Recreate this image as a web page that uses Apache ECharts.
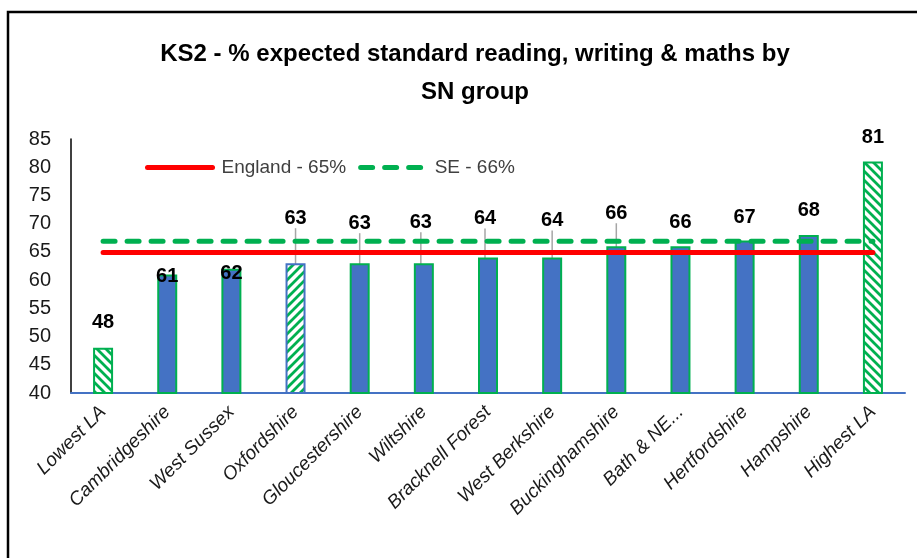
<!DOCTYPE html>
<html>
<head>
<meta charset="utf-8">
<script src="https://cdn.jsdelivr.net/npm/echarts@6/dist/echarts.min.js"></script>
<style>html,body{margin:0;padding:0;background:#fff}#c{width:917px;height:558px}</style>
</head>
<body>
<div id="c"></div>
<script>
const categories = ['Lowest LA','Cambridgeshire','West Sussex','Oxfordshire','Gloucestershire','Wiltshire','Bracknell Forest','West Berkshire','Buckinghamshire','Bath & NE...','Hertfordshire','Hampshire','Highest LA'];
const values = [48, 61, 62, 63, 63, 63, 64, 64, 66, 66, 67, 68, 81];
const englandValues = [64.9, 64.9, 64.9, 64.9, 64.9, 64.9, 64.9, 64.9, 64.9, 64.9, 64.9, 64.9, 64.9];
const seValues = [66.9, 66.9, 66.9, 66.9, 66.9, 66.9, 66.9, 66.9, 66.9, 66.9, 66.9, 66.9, 66.9];
const seriesNames = ['England - 65%', 'SE - 66%'];
const yMin = 40, yMax = 85, yStep = 5;

// styling (not data)
const barKind = ['back','solid','solid','fwd','solid','solid','solid','solid','solid','solid','solid','solid','back'];
const labelDy = [-10, 17, 20, -30, -25, -26, -24, -22, -18, -9, -8, -9, -9];
const labelDx = [0, 0, 0, 0, 0, -3, -3, 0, 0, 0, 0, 0, 0];
const leader = [0,0,0,1,1,1,1,1,1,0,0,0,0];

const BLUE = '#4472C4', GREEN = '#00B050';

function hatch(dir) {
  const s = 9;
  const c = document.createElement('canvas');
  c.width = s; c.height = s;
  const g = c.getContext('2d');
  g.fillStyle = '#fff'; g.fillRect(0, 0, s, s);
  g.strokeStyle = GREEN; g.lineWidth = 2.8;
  g.beginPath();
  if (dir === 'back') {
    g.moveTo(-2, -2); g.lineTo(s + 2, s + 2);
    g.moveTo(-2, s - 2); g.lineTo(2, s + 2);
    g.moveTo(s - 2, -2); g.lineTo(s + 2, 2);
  } else {
    g.moveTo(-2, s + 2); g.lineTo(s + 2, -2);
    g.moveTo(-2, 2); g.lineTo(2, -2);
    g.moveTo(s - 2, s + 2); g.lineTo(s + 2, s - 2);
  }
  g.stroke();
  return c;
}
const patBack = { image: hatch('back'), repeat: 'repeat' };
const patFwd = { image: hatch('fwd'), repeat: 'repeat' };

const barData = values.map((v, i) => {
  const k = barKind[i];
  const item = { value: v };
  if (k === 'back') item.itemStyle = { color: patBack, borderColor: GREEN, borderWidth: 2 };
  else if (k === 'fwd') item.itemStyle = { color: patFwd, borderColor: BLUE, borderWidth: 2 };
  else item.itemStyle = { color: BLUE, borderColor: GREEN, borderWidth: 2 };
  if (leader[i]) item.labelLine = { show: true, lineStyle: { color: '#A6A6A6', width: 1.5 } };
  return item;
});

const chart = echarts.init(document.getElementById('c'), null, { renderer: 'canvas' });
chart.setOption({
  animation: false,
  backgroundColor: '#fff',
  textStyle: { fontFamily: 'Liberation Sans' },
  graphic: [{
    type: 'rect', shape: { x: 8, y: 12, width: 1200, height: 1200 },
    style: { fill: 'none', stroke: '#000', lineWidth: 2.5 }, silent: true, z: 100
  }],
  title: {
    text: 'KS2 - % expected standard reading, writing & maths by\nSN group',
    left: 470, top: 30, textAlign: 'center',
    textStyle: { fontSize: 24, fontWeight: 'bold', color: '#000', lineHeight: 38, fontFamily: 'Liberation Sans' }
  },
  legend: {
    data: seriesNames,
    left: 140, top: 153,
    itemWidth: 65, itemHeight: 18, itemGap: 12,
    itemStyle: { opacity: 0 },
    lineStyle: { width: 5 },
    textStyle: { fontSize: 19, color: '#404040', fontFamily: 'Liberation Sans', padding: [0, 0, 0, 4] }
  },
  grid: { left: 71, right: 12, top: 139, bottom: 165 },
  xAxis: {
    type: 'category', data: categories,
    axisLine: { show: true, lineStyle: { color: BLUE, width: 2 } },
    axisTick: { show: false },
    axisLabel: { rotate: 45, interval: 0, fontSize: 19, fontStyle: 'italic', color: '#1a1a1a', margin: 16, fontFamily: 'Liberation Sans' }
  },
  yAxis: {
    type: 'value', min: yMin, max: yMax, interval: yStep,
    axisLine: { show: true, lineStyle: { color: '#000', width: 1.5 } },
    axisTick: { show: false },
    splitLine: { show: false },
    axisLabel: { fontSize: 20, color: '#1a1a1a', margin: 20, fontFamily: 'Liberation Sans' }
  },
  series: [
    {
      type: 'bar', name: 'value', data: barData, barWidth: 20,
      label: { show: true, position: 'top', distance: 5, fontSize: 20, fontWeight: 'bold', color: '#000', fontFamily: 'Liberation Sans' },
      labelLayout: function (p) { return { dx: labelDx[p.dataIndex], dy: labelDy[p.dataIndex] }; },
      labelLine: { show: false, lineStyle: { color: '#A6A6A6', width: 1.5 } },
      z: 2
    },
    {
      type: 'line', name: seriesNames[0], data: englandValues, symbol: 'none', z: 4,
      lineStyle: { color: '#FF0000', width: 5, cap: 'round' }, itemStyle: { color: '#FF0000' }
    },
    {
      type: 'line', name: seriesNames[1], data: seValues, symbol: 'none', z: 4,
      lineStyle: { color: GREEN, width: 5, type: [12, 12], cap: 'round' }, itemStyle: { color: GREEN }
    }
  ]
});
</script>
</body>
</html>
